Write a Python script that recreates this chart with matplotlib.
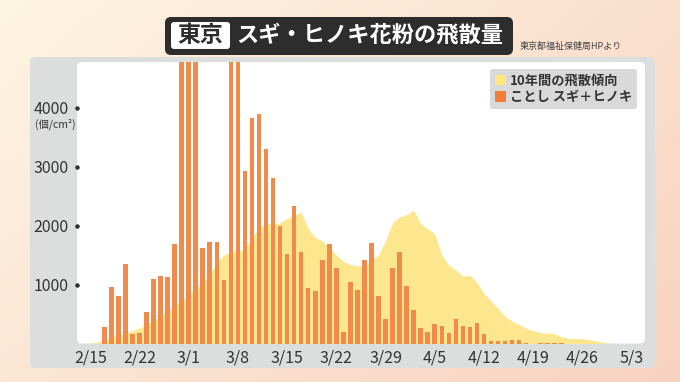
import numpy as np
import matplotlib
matplotlib.use("Agg")
import matplotlib.pyplot as plt
from matplotlib.patches import FancyBboxPatch, Patch
from matplotlib.transforms import blended_transform_factory

plt.rcParams['font.family'] = ['Noto Sans CJK JP', 'DejaVu Sans']

# daily counts this year, starting 2/15 (values above the top are clipped in the original)
pollen = [0, 0, 285, 962, 815, 1345, 161, 183, 539, 1103,
          1148, 1125, 1695, 5800, 6400, 5600, 1622, 1723, 1723, 1074,
          5200, 5000, 2936, 3827, 3894, 3297, 2811, 1999, 1514, 2338,
          1554, 950, 883, 1424, 1695, 1289, 195, 1041, 900, 1424,
          1712, 815, 409, 1283, 1548, 973, 567, 268, 195, 324,
          296, 183, 420, 290, 274, 352, 161, 48, 48, 48,
          65, 65, 10, 0, 10, 10, 10, 10]

# 10-year trend, starting 2/15
trend = [0, 20, 60, 100, 140, 180, 220, 260, 320, 390,
         470, 550, 640, 730, 830, 930, 1040, 1180, 1380, 1500,
         1560, 1560, 1600, 1800, 1950, 2030, 2030, 2050, 2120, 2180,
         2230, 1950, 1800, 1740, 1620, 1500, 1400, 1340, 1320, 1310,
         1420, 1500, 1750, 2050, 2150, 2190, 2260, 2040, 1950, 1860,
         1500, 1330, 1250, 1140, 1160, 1030, 850, 720, 600, 460,
         380, 320, 260, 220, 185, 175, 170, 115, 87, 85,
         82, 65, 40, 20, 0]

date_labels = ['2/15', '2/22', '3/1', '3/8', '3/15', '3/22', '3/29',
               '4/5', '4/12', '4/19', '4/26', '5/3']
y_ticks = [1000, 2000, 3000, 4000]

W, H = 680, 382
fig = plt.figure(figsize=(W / 100, H / 100), dpi=100)

# background in pixel coords
bg = fig.add_axes([0, 0, 1, 1])
bg.set_xlim(0, W)
bg.set_ylim(H, 0)
bg.axis('off')
gx, gy = np.meshgrid(np.linspace(0, 1, 200), np.linspace(0, 1, 120))
t = np.clip(0.6 * gx + 0.4 * gy, 0, 1)[..., None]
c0 = np.array([254, 245, 226]) / 255
c1 = np.array([248, 210, 192]) / 255
bg.imshow(c0 * (1 - t) + c1 * t, extent=(0, W, H, 0), aspect='auto', zorder=0)

bg.add_patch(FancyBboxPatch((30, 57), 625, 311, boxstyle='round,pad=0,rounding_size=5',
                            fc='#dcdddd', ec='none', zorder=1))
bg.add_patch(FancyBboxPatch((77, 62), 568, 281.5, boxstyle='round,pad=0,rounding_size=5',
                            fc='white', ec='none', zorder=2))

# title
bg.add_patch(FancyBboxPatch((165, 17), 348, 38, boxstyle='round,pad=0,rounding_size=6',
                            fc='#2d2d2d', ec='none', zorder=3))
bg.add_patch(FancyBboxPatch((171, 22), 59, 27, boxstyle='round,pad=0,rounding_size=3',
                            fc='white', ec='none', zorder=4))
bg.text(200.5, 35.5, '東京', ha='center', va='center', fontsize=16.5,
        fontweight='bold', color='#2d2d2d', zorder=5)
bg.text(236, 35.5, 'スギ・ヒノキ花粉の飛散量', ha='left', va='center', fontsize=16,
        fontweight='bold', color='white', zorder=5)
bg.text(520, 46, '東京都福祉保健局HPより', ha='left', va='center', fontsize=6.5,
        color='#444444', zorder=5)
bg.text(55.5, 124, '(個/cm²)', ha='center', va='center', fontsize=7.5,
        color='#333333', zorder=5)

# chart
ax = fig.add_axes([77 / W, (H - 343.5) / H, 568 / W, 281.5 / H])
ax.patch.set_alpha(0)
days_trend = np.arange(len(trend))
days = np.arange(len(pollen))
ax.fill_between(days_trend, trend, color='#fce78f', lw=0, zorder=1)
ax.bar(days, pollen, width=0.65, color='#f08b4c', zorder=2)

ax.set_xlim(-1.885, 78.9)
ax.set_ylim(0, 4780)
for s in ax.spines.values():
    s.set_visible(False)

ax.set_xticks(np.arange(len(date_labels)) * 7)
ax.set_xticklabels(date_labels)
ax.set_yticks(y_ticks)
ax.set_yticklabels([str(v) for v in y_ticks])
ax.tick_params(axis='both', length=0, labelsize=11.5, labelcolor='#333333')
ax.tick_params(axis='x', pad=4)
ax.tick_params(axis='y', pad=6)

tr = blended_transform_factory(ax.transAxes, ax.transData)
ax.scatter([0.0] * len(y_ticks), y_ticks, s=5, color='#333333', transform=tr,
           clip_on=False, zorder=3)

handles = [Patch(fc='#ffe680', ec='none', label='10年間の飛散傾向'),
           Patch(fc='#f47b3a', ec='none', label='ことし スギ＋ヒノキ')]
leg = ax.legend(handles=handles, loc='upper right', bbox_to_anchor=(637 / W, (H - 69) / H),
                bbox_transform=fig.transFigure, borderaxespad=0, frameon=True,
                fancybox=True, handlelength=0.85, handleheight=0.85, handletextpad=0.3,
                labelspacing=0.2, borderpad=0.35, fontsize=9.5, facecolor='#d9d9d9',
                edgecolor='none', framealpha=1)
for txt in leg.get_texts():
    txt.set_color('#333333')
    txt.set_fontweight('bold')

fig.savefig('out.png', dpi=100)
